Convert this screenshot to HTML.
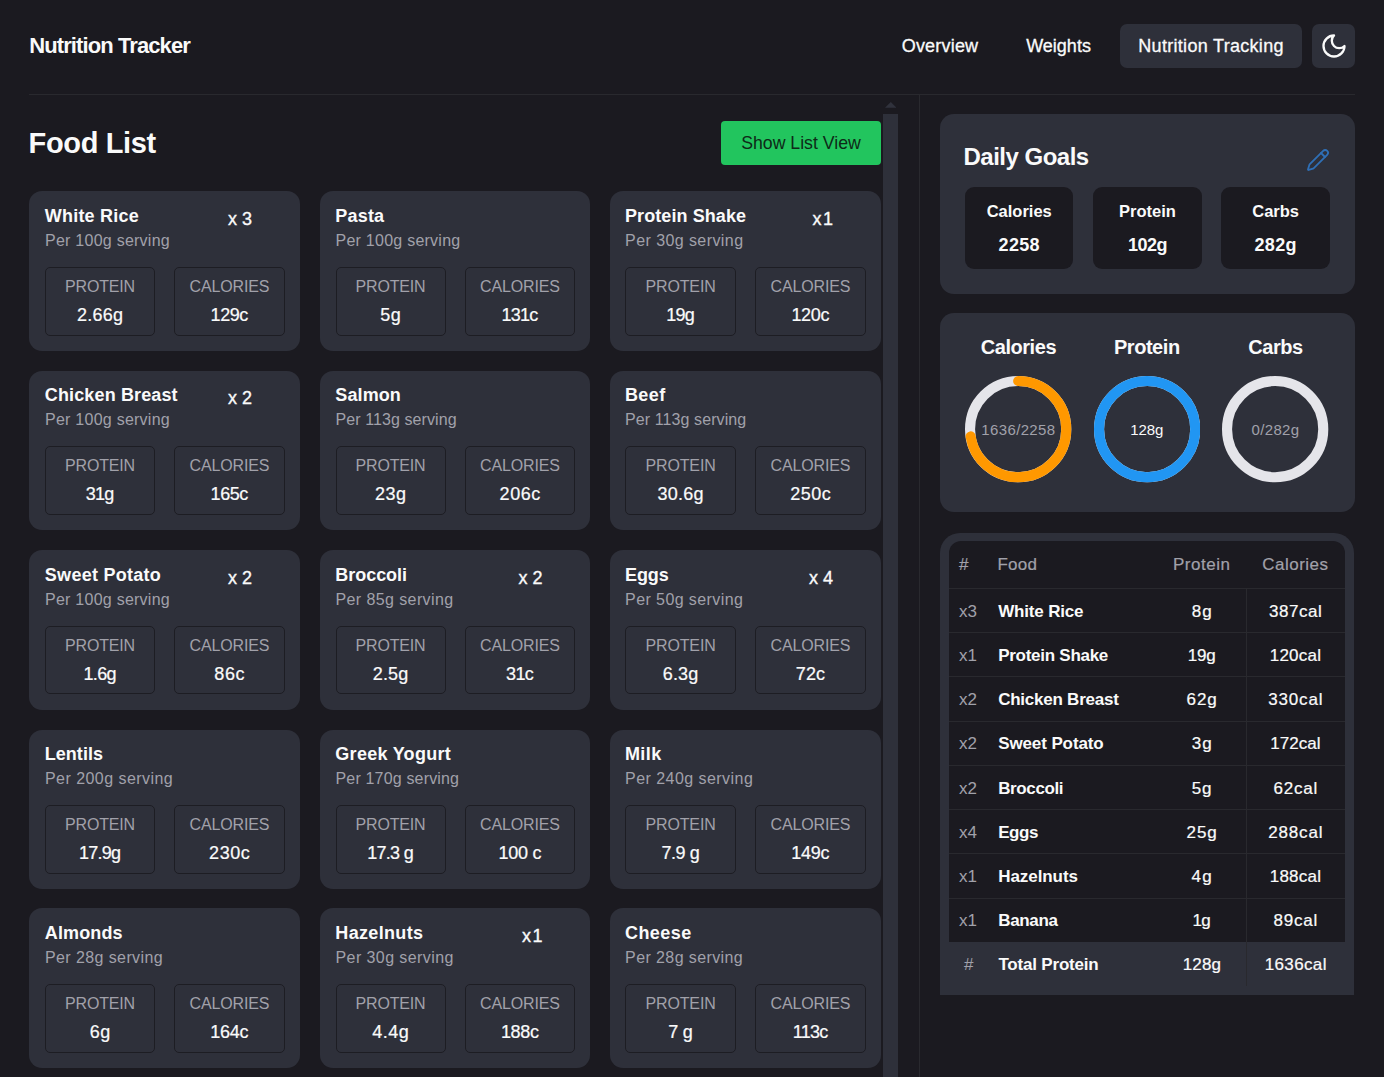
<!DOCTYPE html><html lang='en'><head><meta charset='utf-8'><title>Nutrition Tracker</title><style>
*{box-sizing:border-box;margin:0;padding:0}
h1,h2,h3,p,a,button,span{font:inherit;color:inherit;text-decoration:none;border:0;background:none}
button{font-family:inherit;display:block}
html,body{width:1384px;height:1077px;overflow:hidden;background:#1b1a20;}
body{position:relative;font-family:"Liberation Sans",sans-serif;color:#fafafa;-webkit-font-smoothing:antialiased}
.abs{position:absolute}
.t{position:absolute;white-space:pre;line-height:1}
.c{transform:translateX(-50%)}
.brand{left:29.2px;top:35.2px;font-size:22px;font-weight:700;letter-spacing:-0.9px}
.nav{font-size:18px;top:36.5px;-webkit-text-stroke:0.3px #fafafa}
.m{-webkit-text-stroke:0.3px #fafafa}
.pill{left:1120px;top:24px;width:182px;height:43.7px;border-radius:7px;background:#2e303a}
.moonb{left:1312px;top:24px;width:43px;height:44px;border-radius:7px;background:#2e303a}
.hline{left:29px;top:94px;width:1326px;height:1px;background:#29292e}
.vline{left:919px;top:94px;width:1px;height:983px;background:#29292e}
.h1{left:28.6px;top:128.6px;font-size:29px;font-weight:700;letter-spacing:-0.35px}
.btn{left:721px;top:121px;width:160px;height:44px;border-radius:4px;background:#22c55e}
.btnt{left:801px;top:135.2px;font-size:17.7px;color:#0e2a18}
.sbthumb{left:883px;top:113.75px;width:15px;height:970px;background:#2e303a}
.card{position:absolute;width:270.5px;height:159.5px;border-radius:13px;background:#2e303a}
.card .name{left:15.6px;top:15.7px;font-size:18px;font-weight:700;letter-spacing:0.2px}
.card .sub{left:15.75px;top:41.5px;font-size:16px;color:#a1a1aa;letter-spacing:0.35px}
.card .cnt{right:47.8px;top:18.5px;font-size:18px;-webkit-text-stroke:0.35px #fafafa}
.card .box{position:absolute;top:75.7px;width:110px;height:68.6px;border:1px solid #1d1d23;border-radius:5px}
.c3 .name,.c3 .sub{margin-left:-0.9px}
.card .b1{left:15.75px} .c3 .b1{left:14.9px;width:110.85px} .card .b2{left:145px;width:110.4px}
.box .lab{left:50%;top:11.2px;font-size:16px;color:#a1a1aa;letter-spacing:-0.15px}
.box .val{left:50%;top:38px;font-size:18px;letter-spacing:0.2px;-webkit-text-stroke:0.22px #fafafa}
.panel{position:absolute;background:#2e303a;border-radius:14px}
.gbox{position:absolute;top:72.75px;width:108.5px;height:81.75px;border-radius:9px;background:#1b1a20}
.gbox .gl{left:50%;top:15.7px;font-size:16.5px;font-weight:700}
.gbox .gv{left:50%;top:48.8px;font-size:18px;font-weight:700;letter-spacing:0.3px}
.rl{font-size:20px;font-weight:700;top:23.8px;letter-spacing:-0.45px}
.rv{font-size:15px;top:109.2px;letter-spacing:0.35px}
.tw{left:939.6px;top:532.5px;width:414.6px;height:462.5px;border-radius:20px 20px 0 0;background:#2e303a}
.ti{left:9.1px;top:8.5px;width:396.2px;height:401px;border-radius:12px 12px 0 0;background:#1b1a20}
.rline{position:absolute;left:0;width:396.2px;height:1px;background:#29292e}
.th{font-size:17px;color:#a1a1aa;top:15px;letter-spacing:0.5px;-webkit-text-stroke:0.2px #a1a1aa}
.td{font-size:17px}
.tn{font-weight:700;letter-spacing:-0.2px}
.tv{letter-spacing:0.4px;-webkit-text-stroke:0.22px #fafafa}
</style></head><body>
<header><h1 class='t brand'>Nutrition Tracker</h1>
<nav><span class='abs pill'></span>
<a class='t nav' style='left:901.7px;letter-spacing:0.2px'>Overview</a>
<a class='t nav' style='left:1026.2px;letter-spacing:0px'>Weights</a>
<a class='t nav' style='left:1138.3px;letter-spacing:0.3px'>Nutrition Tracking</a></nav><button class='abs moonb' aria-label='Toggle theme'></button>
<svg class='abs' style='left:1319.5px;top:32px' width='28' height='28' viewBox='0 0 24 24' fill='none' stroke='#fafafa' stroke-width='2' stroke-linecap='round' stroke-linejoin='round'><path d='M12 3a6 6 0 0 0 9 9 9 9 0 1 1-9-9Z'/></svg></header>
<div class='abs hline'></div><div class='abs vline'></div><main>
<section><h2 class='t h1'>Food List</h2>
<button class='abs btn'></button><span class='t btnt c'>Show List View</span>
<svg class='abs' style='left:884.7px;top:102.2px' width='11.6' height='5.8' viewBox='0 0 11.6 5.8'><path d='M0 5.8L5.8 0L11.6 5.8Z' fill='#30323c'/></svg>
<div class='abs sbthumb'></div>
<article class='card' style='left:29.25px;top:191.25px'><h3 class='t name' style='letter-spacing:0.2px;'>White Rice</h3><p class='t sub' style='letter-spacing:0.25px;'>Per 100g serving</p><div class='t cnt'>x 3</div><div class='box b1'><div class='t lab c'>PROTEIN</div><div class='t val c' style='letter-spacing:0.27px;margin-left:0.14px;'>2.66g</div></div><div class='box b2'><div class='t lab c'>CALORIES</div><div class='t val c' style='letter-spacing:-0.39px;margin-left:-0.20px;'>129c</div></div></article>
<article class='card' style='left:319.75px;top:191.25px'><h3 class='t name' style='letter-spacing:0.18px;'>Pasta</h3><p class='t sub' style='letter-spacing:0.25px;'>Per 100g serving</p><div class='box b1'><div class='t lab c'>PROTEIN</div><div class='t val c' style='letter-spacing:0.35px;margin-left:0.17px;'>5g</div></div><div class='box b2'><div class='t lab c'>CALORIES</div><div class='t val c' style='letter-spacing:-0.75px;margin-left:-0.38px;'>131c</div></div></article>
<article class='card c3' style='left:610.25px;top:191.25px'><h3 class='t name' style='letter-spacing:0.09px;'>Protein Shake</h3><p class='t sub' style='letter-spacing:0.42px;'>Per 30g serving</p><div class='t cnt' style="word-spacing:-3.5px">x 1</div><div class='box b1'><div class='t lab c'>PROTEIN</div><div class='t val c' style='letter-spacing:-0.73px;margin-left:-0.36px;'>19g</div></div><div class='box b2'><div class='t lab c'>CALORIES</div><div class='t val c' style='letter-spacing:-0.33px;margin-left:-0.17px;'>120c</div></div></article>
<article class='card' style='left:29.25px;top:370.50px'><h3 class='t name' style='letter-spacing:0.13px;'>Chicken Breast</h3><p class='t sub' style='letter-spacing:0.25px;'>Per 100g serving</p><div class='t cnt'>x 2</div><div class='box b1'><div class='t lab c'>PROTEIN</div><div class='t val c' style='letter-spacing:-0.74px;margin-left:-0.37px;'>31g</div></div><div class='box b2'><div class='t lab c'>CALORIES</div><div class='t val c' style='letter-spacing:-0.39px;margin-left:-0.20px;'>165c</div></div></article>
<article class='card' style='left:319.75px;top:370.50px'><h3 class='t name' style='letter-spacing:0.1px;'>Salmon</h3><p class='t sub' style='letter-spacing:0.09px;'>Per 113g serving</p><div class='box b1'><div class='t lab c'>PROTEIN</div><div class='t val c' style='letter-spacing:0.38px;margin-left:0.19px;'>23g</div></div><div class='box b2'><div class='t lab c'>CALORIES</div><div class='t val c' style='letter-spacing:0.57px;margin-left:0.28px;'>206c</div></div></article>
<article class='card c3' style='left:610.25px;top:370.50px'><h3 class='t name' style='letter-spacing:0.39px;'>Beef</h3><p class='t sub' style='letter-spacing:0.09px;'>Per 113g serving</p><div class='box b1'><div class='t lab c'>PROTEIN</div><div class='t val c' style='letter-spacing:0.27px;margin-left:0.14px;'>30.6g</div></div><div class='box b2'><div class='t lab c'>CALORIES</div><div class='t val c' style='letter-spacing:0.52px;margin-left:0.26px;'>250c</div></div></article>
<article class='card' style='left:29.25px;top:550.00px'><h3 class='t name' style='letter-spacing:0.27px;'>Sweet Potato</h3><p class='t sub' style='letter-spacing:0.25px;'>Per 100g serving</p><div class='t cnt'>x 2</div><div class='box b1'><div class='t lab c'>PROTEIN</div><div class='t val c' style='letter-spacing:-0.64px;margin-left:-0.32px;'>1.6g</div></div><div class='box b2'><div class='t lab c'>CALORIES</div><div class='t val c' style='letter-spacing:0.57px;margin-left:0.28px;'>86c</div></div></article>
<article class='card' style='left:319.75px;top:550.00px'><h3 class='t name' style='letter-spacing:-0.05px;'>Broccoli</h3><p class='t sub' style='letter-spacing:0.4px;'>Per 85g serving</p><div class='t cnt'>x 2</div><div class='box b1'><div class='t lab c'>PROTEIN</div><div class='t val c' style='letter-spacing:0.22px;margin-left:0.11px;'>2.5g</div></div><div class='box b2'><div class='t lab c'>CALORIES</div><div class='t val c' style='letter-spacing:-0.64px;margin-left:-0.32px;'>31c</div></div></article>
<article class='card c3' style='left:610.25px;top:550.00px'><h3 class='t name' style='letter-spacing:-0.07px;'>Eggs</h3><p class='t sub' style='letter-spacing:0.41px;'>Per 50g serving</p><div class='t cnt'>x 4</div><div class='box b1'><div class='t lab c'>PROTEIN</div><div class='t val c' style='letter-spacing:0.12px;margin-left:0.06px;'>6.3g</div></div><div class='box b2'><div class='t lab c'>CALORIES</div><div class='t val c' style='letter-spacing:0.17px;margin-left:0.09px;'>72c</div></div></article>
<article class='card' style='left:29.25px;top:729.50px'><h3 class='t name' style='letter-spacing:0.01px;'>Lentils</h3><p class='t sub' style='letter-spacing:0.45px;'>Per 200g serving</p><div class='box b1'><div class='t lab c'>PROTEIN</div><div class='t val c' style='letter-spacing:-0.75px;margin-left:-0.38px;'>17.9g</div></div><div class='box b2'><div class='t lab c'>CALORIES</div><div class='t val c' style='letter-spacing:0.56px;margin-left:0.28px;'>230c</div></div></article>
<article class='card' style='left:319.75px;top:729.50px'><h3 class='t name' style='letter-spacing:0.27px;'>Greek Yogurt</h3><p class='t sub' style='letter-spacing:0.17px;'>Per 170g serving</p><div class='box b1'><div class='t lab c'>PROTEIN</div><div class='t val c' style='letter-spacing:-0.75px;margin-left:-0.38px;'>17.3 g</div></div><div class='box b2'><div class='t lab c'>CALORIES</div><div class='t val c' style='letter-spacing:-0.27px;margin-left:-0.14px;'>100 c</div></div></article>
<article class='card c3' style='left:610.25px;top:729.50px'><h3 class='t name' style='letter-spacing:0.41px;'>Milk</h3><p class='t sub' style='letter-spacing:0.45px;'>Per 240g serving</p><div class='box b1'><div class='t lab c'>PROTEIN</div><div class='t val c' style='letter-spacing:-0.45px;margin-left:-0.23px;'>7.9 g</div></div><div class='box b2'><div class='t lab c'>CALORIES</div><div class='t val c' style='letter-spacing:-0.23px;margin-left:-0.12px;'>149c</div></div></article>
<article class='card' style='left:29.25px;top:908.25px'><h3 class='t name' style='letter-spacing:0.12px;'>Almonds</h3><p class='t sub' style='letter-spacing:0.4px;'>Per 28g serving</p><div class='box b1'><div class='t lab c'>PROTEIN</div><div class='t val c' style='letter-spacing:0.45px;margin-left:0.23px;'>6g</div></div><div class='box b2'><div class='t lab c'>CALORIES</div><div class='t val c' style='letter-spacing:-0.23px;margin-left:-0.12px;'>164c</div></div></article>
<article class='card' style='left:319.75px;top:908.25px'><h3 class='t name' style='letter-spacing:0.33px;'>Hazelnuts</h3><p class='t sub' style='letter-spacing:0.42px;'>Per 30g serving</p><div class='t cnt' style="word-spacing:-3.5px">x 1</div><div class='box b1'><div class='t lab c'>PROTEIN</div><div class='t val c' style='letter-spacing:0.45px;margin-left:0.23px;'>4.4g</div></div><div class='box b2'><div class='t lab c'>CALORIES</div><div class='t val c' style='letter-spacing:-0.34px;margin-left:-0.17px;'>188c</div></div></article>
<article class='card c3' style='left:610.25px;top:908.25px'><h3 class='t name' style='letter-spacing:0.45px;'>Cheese</h3><p class='t sub' style='letter-spacing:0.4px;'>Per 28g serving</p><div class='box b1'><div class='t lab c'>PROTEIN</div><div class='t val c' style='letter-spacing:-0.21px;margin-left:-0.10px;'>7 g</div></div><div class='box b2'><div class='t lab c'>CALORIES</div><div class='t val c' style='letter-spacing:-0.75px;margin-left:-0.38px;'>113c</div></div></article>
</section><aside>
<section class='panel' style='left:939.6px;top:114.25px;width:415.4px;height:179.6px'>
<h2 class='t' style='left:23.9px;top:30.3px;font-size:24px;font-weight:700;letter-spacing:-0.5px'>Daily Goals</h2>
<svg class='abs' style='left:366.4px;top:33.7px' width='24' height='24' viewBox='0 0 24 24' fill='none' stroke='#2f6fb6' stroke-width='1.8' stroke-linecap='round' stroke-linejoin='round'><path d='M21.174 6.812a1 1 0 0 0-3.986-3.987L3.842 16.174a2 2 0 0 0-.5.83l-1.321 4.352a.5.5 0 0 0 .623.622l4.353-1.32a2 2 0 0 0 .83-.497z'/><path d='m15 5 4 4'/></svg>
<div class='gbox' style='left:25.40px'><div class='t gl c'>Calories</div><div class='t gv c'>2258</div></div>
<div class='gbox' style='left:153.60px'><div class='t gl c'>Protein</div><div class='t gv c' style="letter-spacing:-0.5px">102g</div></div>
<div class='gbox' style='left:281.80px'><div class='t gl c'>Carbs</div><div class='t gv c'>282g</div></div>
</section>
<section class='panel' style='left:939.6px;top:313.25px;width:415.4px;height:198.7px'>
<div class='t rl c' style='left:78.8px'>Calories</div>
<svg class='abs' style='left:25.65px;top:63.1px' width='106.3' height='106.3' viewBox='0 0 106.3 106.3'><circle cx='53.15' cy='53.15' r='48.1' fill='none' stroke='#e5e5ea' stroke-width='10.1'/><circle cx='53.15' cy='53.15' r='48.1' fill='none' stroke='#ff9800' stroke-width='10.1' stroke-linecap='round' stroke-dasharray='218.97 302.22' transform='rotate(-90 53.15 53.15)'/></svg>
<div class='t rv c' style='left:78.8px;color:#a1a1aa'>1636/2258</div>
<div class='t rl c' style='left:207.2px'>Protein</div>
<svg class='abs' style='left:154.05px;top:63.1px' width='106.3' height='106.3' viewBox='0 0 106.3 106.3'><circle cx='53.15' cy='53.15' r='48.1' fill='none' stroke='#e5e5ea' stroke-width='10.1'/><circle cx='53.15' cy='53.15' r='48.1' fill='none' stroke='#2196f3' stroke-width='10.1'/></svg>
<div class='t rv c' style='left:207.2px;color:#fafafa;letter-spacing:-0.1px'>128g</div>
<div class='t rl c' style='left:335.9px'>Carbs</div>
<svg class='abs' style='left:282.75px;top:63.1px' width='106.3' height='106.3' viewBox='0 0 106.3 106.3'><circle cx='53.15' cy='53.15' r='48.1' fill='none' stroke='#e5e5ea' stroke-width='10.1'/></svg>
<div class='t rv c' style='left:335.9px;color:#a1a1aa'>0/282g</div>
</section>
<section class='abs tw'><div class='abs ti'>
<div class='t th' style='left:10.2px;letter-spacing:0'>#</div><div class='t th' style='left:48.7px;letter-spacing:0.3px'>Food</div><div class='t th c' style='left:253px'>Protein</div><div class='t th c' style='left:346.7px'>Calories</div>
<div class='rline' style='top:46.75px'></div>
<div class='t td' style='left:10.4px;top:61.65px;color:#a1a1aa'>x3</div><div class='t td tn' style='left:49.5px;top:61.65px;letter-spacing:-0.17px;'>White Rice</div><div class='t td tv c' style='left:253px;top:61.65px;letter-spacing:0.99px;margin-left:0.49px;'>8g</div><div class='t td tv c' style='left:346.7px;top:61.65px;letter-spacing:0.53px;margin-left:0.27px;'>387cal</div>
<div class='rline' style='top:91.00px'></div>
<div class='t td' style='left:10.4px;top:105.90px;color:#a1a1aa'>x1</div><div class='t td tn' style='left:49.5px;top:105.90px;letter-spacing:-0.27px;'>Protein Shake</div><div class='t td tv c' style='left:253px;top:105.90px;letter-spacing:-0.17px;margin-left:-0.09px;'>19g</div><div class='t td tv c' style='left:346.7px;top:105.90px;letter-spacing:0.25px;margin-left:0.12px;'>120cal</div>
<div class='rline' style='top:135.25px'></div>
<div class='t td' style='left:10.4px;top:150.15px;color:#a1a1aa'>x2</div><div class='t td tn' style='left:49.5px;top:150.15px;letter-spacing:-0.24px;'>Chicken Breast</div><div class='t td tv c' style='left:253px;top:150.15px;letter-spacing:0.96px;margin-left:0.48px;'>62g</div><div class='t td tv c' style='left:346.7px;top:150.15px;letter-spacing:0.87px;margin-left:0.43px;'>330cal</div>
<div class='rline' style='top:179.50px'></div>
<div class='t td' style='left:10.4px;top:194.40px;color:#a1a1aa'>x2</div><div class='t td tn' style='left:49.5px;top:194.40px;letter-spacing:-0.11px;'>Sweet Potato</div><div class='t td tv c' style='left:253px;top:194.40px;letter-spacing:0.98px;margin-left:0.49px;'>3g</div><div class='t td tv c' style='left:346.7px;top:194.40px;letter-spacing:0.05px;margin-left:0.03px;'>172cal</div>
<div class='rline' style='top:223.75px'></div>
<div class='t td' style='left:10.4px;top:238.65px;color:#a1a1aa'>x2</div><div class='t td tn' style='left:49.5px;top:238.65px;letter-spacing:-0.38px;'>Broccoli</div><div class='t td tv c' style='left:253px;top:238.65px;letter-spacing:0.9px;margin-left:0.45px;'>5g</div><div class='t td tv c' style='left:346.7px;top:238.65px;letter-spacing:0.76px;margin-left:0.38px;'>62cal</div>
<div class='rline' style='top:268.00px'></div>
<div class='t td' style='left:10.4px;top:282.90px;color:#a1a1aa'>x4</div><div class='t td tn' style='left:49.5px;top:282.90px;letter-spacing:-0.47px;'>Eggs</div><div class='t td tv c' style='left:253px;top:282.90px;letter-spacing:0.89px;margin-left:0.45px;'>25g</div><div class='t td tv c' style='left:346.7px;top:282.90px;letter-spacing:0.81px;margin-left:0.41px;'>288cal</div>
<div class='rline' style='top:312.25px'></div>
<div class='t td' style='left:10.4px;top:327.15px;color:#a1a1aa'>x1</div><div class='t td tn' style='left:49.5px;top:327.15px;letter-spacing:-0.06px;'>Hazelnuts</div><div class='t td tv c' style='left:253px;top:327.15px;letter-spacing:1.22px;margin-left:0.61px;'>4g</div><div class='t td tv c' style='left:346.7px;top:327.15px;letter-spacing:0.24px;margin-left:0.12px;'>188cal</div>
<div class='rline' style='top:356.50px'></div>
<div class='t td' style='left:10.4px;top:371.40px;color:#a1a1aa'>x1</div><div class='t td tn' style='left:49.5px;top:371.40px;letter-spacing:-0.33px;'>Banana</div><div class='t td tv c' style='left:253px;top:371.40px;letter-spacing:-0.75px;margin-left:-0.38px;'>1g</div><div class='t td tv c' style='left:346.7px;top:371.40px;letter-spacing:0.8px;margin-left:0.40px;'>89cal</div>
</div>
<div class='t td c' style='left:29.1px;top:423.00px;color:#a1a1aa'>#</div><div class='t td tn' style='left:58.8px;top:423.00px;letter-spacing:-0.19px;'>Total Protein</div><div class='t td tv c' style='left:262.3px;top:423.00px;letter-spacing:0.09px;margin-left:0.04px;'>128g</div><div class='t td tv c' style='left:356px;top:423.00px;letter-spacing:0.36px;margin-left:0.18px;'>1636cal</div>
<div class='abs' style='left:306.2px;top:55.75px;width:1px;height:397.5px;background:#29292e'></div>
</section></aside></main>
</body></html>
